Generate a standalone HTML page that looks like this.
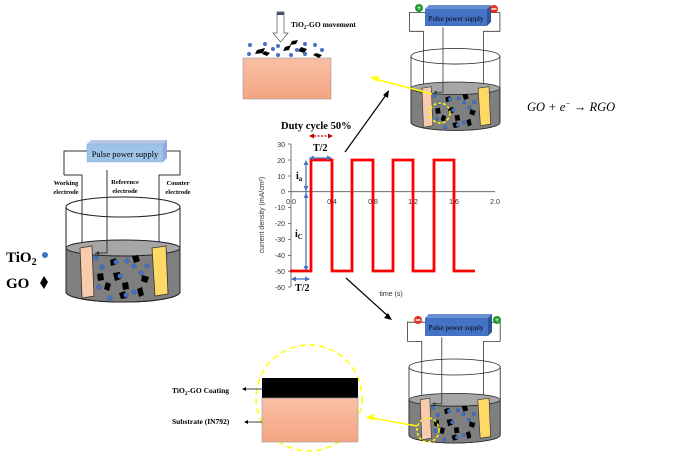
<!DOCTYPE html>
<html><head><meta charset="utf-8"><style>
html,body{margin:0;padding:0;background:#fff;}
svg{display:block;font-family:"Liberation Serif",serif;}
</style></head><body>
<svg width="685" height="465" viewBox="0 0 685 465" xmlns="http://www.w3.org/2000/svg">
<defs>
<symbol id="beaker" overflow="visible">
  <path d="M88,151 H64 V175 M82,248 V175 H64" fill="none" stroke="#333" stroke-width="1"/>
  <path d="M163,151 H180 V175 H159 V248" fill="none" stroke="#333" stroke-width="1"/>
  <path d="M66,207 V292 A57,10 0 0 0 180,292 V207" fill="none" stroke="#222" stroke-width="1"/>
  <path d="M66,248 V292 A57,10 0 0 0 180,292 V248 Z" fill="#7f7f7f" stroke="#222" stroke-width="1"/>
  <ellipse cx="123" cy="248" rx="57" ry="8" fill="#a6a6a6" stroke="#222" stroke-width="1"/>
  <ellipse cx="123" cy="207" rx="57" ry="10" fill="none" stroke="#222" stroke-width="1"/>
  <path d="M107,170 V253 H95" fill="none" stroke="#333" stroke-width="1"/>
  <path d="M95,253 l4,-2 v4z" fill="#333"/>
  <polygon points="80,248 92,246 94,296 82,298" fill="#f8cbad" stroke="#333" stroke-width="0.8"/>
  <polygon points="152,248 166,246 168,294 155,296" fill="#ffd966" stroke="#333" stroke-width="0.8"/>
  <g fill="#000">
    <polygon points="110,260 116,258 117,264 111,266"/>
    <polygon points="132,256 138,255 140,261 134,263"/>
    <polygon points="97,274 103,273 104,280 98,281"/>
    <polygon points="113,273 120,272 121,279 115,281"/>
    <polygon points="142,275 149,277 147,283 141,281"/>
    <polygon points="122,283 128,282 129,289 123,290"/>
    <polygon points="137,289 142,287 144,295 139,297"/>
    <polygon points="119,293 125,291 127,298 121,299"/>
    <polygon points="106,282 111,284 109,291 104,289"/>
  </g>
  <g fill="#4472c4" stroke="#2f5597" stroke-width="0.5">
    <circle cx="96" cy="258" r="2.3"/><circle cx="102" cy="267" r="2.3"/>
    <circle cx="116" cy="262" r="2.3"/><circle cx="127" cy="261" r="2.3"/>
    <circle cx="134" cy="266" r="2.3"/><circle cx="147" cy="266" r="2.3"/>
    <circle cx="99" cy="287" r="2.3"/><circle cx="120" cy="276" r="2.3"/>
    <circle cx="141" cy="273" r="2.3"/><circle cx="110" cy="298" r="2.3"/>
    <circle cx="126" cy="295" r="2.3"/><circle cx="134" cy="292" r="2.3"/>
  </g>
</symbol>
<linearGradient id="peach" x1="0" y1="0" x2="0" y2="1"><stop offset="0" stop-color="#f8c0a5"/><stop offset="1" stop-color="#f4a582"/></linearGradient>
</defs>

<use href="#beaker"/>
<polygon points="87,144 91,140 167,140 163,144" fill="#b4c7e7"/>
<polygon points="163,144 167,140 167,158 163,162" fill="#8faadc"/>
<rect x="87" y="144" width="76" height="18" fill="#9dc3e6" stroke="#8faadc" stroke-width="0.5"/>
<text x="125" y="157" font-size="8.5" text-anchor="middle">Pulse power supply</text>
<text x="66" y="185" font-size="6.5" font-weight="bold" text-anchor="middle">Working</text>
<text x="66" y="194" font-size="6.5" font-weight="bold" text-anchor="middle">electrode</text>
<text x="125" y="184" font-size="6.5" font-weight="bold" text-anchor="middle">Reference</text>
<text x="125" y="193" font-size="6.5" font-weight="bold" text-anchor="middle">electrode</text>
<text x="178" y="185" font-size="6.5" font-weight="bold" text-anchor="middle">Counter</text>
<text x="178" y="194" font-size="6.5" font-weight="bold" text-anchor="middle">electrode</text>
<text x="6" y="262" font-size="15" font-weight="bold">TiO<tspan font-size="10" dy="3">2</tspan></text>
<circle cx="45" cy="255" r="3" fill="#4472c4"/>
<text x="6" y="288" font-size="15" font-weight="bold">GO</text>
<polygon points="44,276 48,282 44,289 40,283" fill="#000"/>

<g transform="translate(411,4) scale(0.78) translate(-66,-140)"><use href="#beaker"/></g>
<polygon points="425,9 429,5 491,5 487,9" fill="#6a8fd0"/>
<polygon points="487,9 491,5 491,22 487,26" fill="#2f5597"/>
<rect x="425" y="9" width="62" height="17" fill="#4472c4"/>
<text x="456" y="21" font-size="7" text-anchor="middle">Pulse power supply</text>
<circle cx="419" cy="8" r="4" fill="#1a9a2a"/><text x="419" y="11" font-size="8" fill="#fff" text-anchor="middle" font-weight="bold">+</text>
<circle cx="494" cy="9" r="4" fill="#e03020"/><rect x="491.5" y="8.3" width="5" height="1.4" fill="#fff"/>
<ellipse cx="440" cy="113" rx="10" ry="10" fill="none" stroke="#ffff00" stroke-width="1.5" stroke-dasharray="3,2"/>

<g transform="translate(409,367) scale(0.8) translate(-66,-207)"><use href="#beaker"/></g>
<polygon points="425,318 429,314 492,314 488,318" fill="#6a8fd0"/>
<polygon points="488,318 492,314 492,332 488,336" fill="#2f5597"/>
<rect x="425" y="318" width="63" height="18" fill="#4472c4"/>
<text x="456" y="330" font-size="7" text-anchor="middle">Pulse power supply</text>
<circle cx="418" cy="320" r="4" fill="#e03020"/><rect x="415.5" y="319.3" width="5" height="1.4" fill="#fff"/>
<circle cx="497" cy="320" r="4" fill="#1a9a2a"/><text x="497" y="323" font-size="8" fill="#fff" text-anchor="middle" font-weight="bold">+</text>
<ellipse cx="428" cy="430" rx="11" ry="12" fill="none" stroke="#ffff00" stroke-width="1.5" stroke-dasharray="3,2"/>

<rect x="243" y="58" width="88" height="41" fill="url(#peach)" stroke="#999" stroke-width="0.6"/>
<path d="M277,12 h7 v21 h4 l-7.5,9 l-7.5,-9 h4 z" fill="#fff" stroke="#555" stroke-width="0.7"/>
<rect x="277" y="12" width="7" height="3" fill="#44546a"/>
<text x="291" y="27" font-size="7.5" font-weight="bold">TiO<tspan font-size="5.5" dy="2">2</tspan><tspan dy="-2">-GO movement</tspan></text>
<g fill="#000">
<polygon points="257,50 265,48 263,53 255,54"/><polygon points="265,51 270,53 267,56 262,54"/>
<polygon points="285,47 291,45 289,50 283,51"/><polygon points="292,41 298,40 296,44 290,45"/>
<polygon points="301,47 307,49 304,53 298,51"/><polygon points="316,53 322,55 319,58 313,55"/>
</g>
<g fill="#4472c4">
<circle cx="250" cy="45" r="2"/><circle cx="249" cy="54" r="2"/><circle cx="265" cy="44" r="2"/>
<circle cx="273" cy="49" r="2"/><circle cx="278" cy="46" r="2"/><circle cx="278" cy="55" r="2"/>
<circle cx="291" cy="55" r="2"/><circle cx="297" cy="50" r="2"/><circle cx="305" cy="44" r="2"/>
<circle cx="305" cy="54" r="2"/><circle cx="315" cy="45" r="2"/><circle cx="322" cy="50" r="2"/>
</g>

<circle cx="309" cy="398" r="53" fill="none" stroke="#ffff00" stroke-width="1.5" stroke-dasharray="6,4"/>
<rect x="262" y="378" width="96" height="20" fill="#000"/>
<rect x="262" y="398" width="96" height="44" fill="url(#peach)" stroke="#999" stroke-width="0.6"/>
<text x="172" y="393" font-size="7.5" font-weight="bold">TiO<tspan font-size="5.5" dy="2">2</tspan><tspan dy="-2">-GO Coating</tspan></text>
<path d="M262,389 H243" stroke="#000" stroke-width="0.8"/><path d="M242,389 l4,-2 v4z"/>
<text x="172" y="424" font-size="7.5" font-weight="bold">Substrate (IN792)</text>
<path d="M262,422 H245" stroke="#000" stroke-width="0.8"/><path d="M244,422 l4,-2 v4z"/>

<path d="M432,94 L375,79" stroke="#ffff00" stroke-width="1.5"/>
<path d="M370,77 l9,-1 l-2,6 z" fill="#ffff00"/>
<path d="M417,426 L372,418" stroke="#ffff00" stroke-width="1.5"/>
<path d="M366,417 l8,-3 l-1,7 z" fill="#ffff00"/>

<path d="M345,152 L386,95" stroke="#000" stroke-width="1.2"/><path d="M389,90 l-1,8 l-5,-3 z"/>
<path d="M346,278 L388,316" stroke="#000" stroke-width="1.2"/><path d="M392,320 l-8,-2 l4,-5 z"/>

<g font-family="Liberation Sans, sans-serif" font-size="7" fill="#333">
<path d="M291,144 V287" stroke="#555" stroke-width="0.8"/>
<path d="M291,191.7 H495" stroke="#555" stroke-width="0.8"/>
<path d="M288,144h3M288,160h3M288,176h3M288,191.7h3M288,207.6h3M288,223.5h3M288,239.4h3M288,255.3h3M288,271.2h3M288,287h3" stroke="#555" stroke-width="0.8"/>
<text x="285" y="147" text-anchor="end">30</text><text x="285" y="163" text-anchor="end">20</text>
<text x="285" y="179" text-anchor="end">10</text><text x="285" y="194" text-anchor="end">0</text>
<text x="285" y="210" text-anchor="end">-10</text><text x="285" y="226" text-anchor="end">-20</text>
<text x="285" y="242" text-anchor="end">-30</text><text x="285" y="258" text-anchor="end">-40</text>
<text x="285" y="274" text-anchor="end">-50</text><text x="285" y="290" text-anchor="end">-60</text>
<text x="291" y="204" text-anchor="middle">0.0</text><text x="332" y="204" text-anchor="middle">0.4</text>
<text x="373" y="204" text-anchor="middle">0.8</text><text x="413" y="204" text-anchor="middle">1.2</text>
<text x="454" y="204" text-anchor="middle">1.6</text><text x="495" y="204" text-anchor="middle">2.0</text>
<text x="391" y="296" text-anchor="middle">time (s)</text>
<text transform="translate(264,215) rotate(-90)" text-anchor="middle">current density (mA/cm²)</text>
</g>
<path d="M290,271 H311 V160 H332 V271 H352 V160 H373 V271 H393 V160 H413 V271 H434 V160 H454 V271 H475" fill="none" stroke="#ff0000" stroke-width="2.8"/>
<g stroke="#4472c4" stroke-width="1.3" fill="#4472c4">
<path d="M306,162 V270" fill="none"/>
<path d="M306,160 l-2.5,5 h5z M306,191 l-2.5,-5 h5z M306,193 l-2.5,5 h5z M306,271 l-2.5,-5 h5z" stroke="none"/>
<path d="M310,158 H331" fill="none"/><path d="M309,158 l5,-2.5 v5z M332,158 l-5,-2.5 v5z" stroke="none"/>
<path d="M292,279 H309" fill="none"/><path d="M291,279 l5,-2.5 v5z M310,279 l-5,-2.5 v5z" stroke="none"/>
</g>
<path d="M314,136 H328" stroke="#c00000" stroke-width="1.2" stroke-dasharray="2,1.5"/>
<path d="M309,136 l5,-2.5 v5z M333,136 l-5,-2.5 v5z" fill="#c00000"/>
<text x="281" y="129" font-size="10.5" font-weight="bold">Duty cycle 50%</text>
<text x="313" y="151" font-size="10" font-weight="bold">T/2</text>
<text x="296" y="179" font-size="10" font-weight="bold">i<tspan font-size="7" dy="2">a</tspan></text>
<text x="295" y="237" font-size="10" font-weight="bold">i<tspan font-size="7" dy="2">C</tspan></text>
<text x="295" y="291" font-size="10" font-weight="bold">T/2</text>

<text x="527" y="111" font-size="12.5" font-style="italic">GO + e<tspan font-size="8" dy="-5">−</tspan><tspan dy="5"> → RGO</tspan></text>
</svg>
</body></html>
